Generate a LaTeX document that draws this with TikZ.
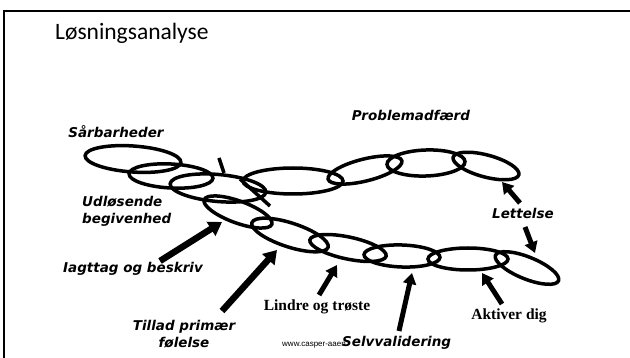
\documentclass[tikz,border=0pt]{standalone}
\usepackage{fontspec}
\setmainfont{Liberation Serif}
\newfontfamily\titelfont{Carlito}
\newfontfamily\haandfont{DejaVu Sans}
\newfontfamily\lillefont{Liberation Sans}
\usetikzlibrary{shapes.geometric, arrows.meta}
\tikzset{
    ring/.style   = {draw, ellipse, line width=3.5pt, inner sep=0pt, outer sep=0pt},
    pil/.style    = {line width=6.5pt, -{Triangle[length=13pt, width=16pt]}},
    lillepil/.style = {line width=5pt, -{Triangle[length=11pt, width=13pt]}},
    haand/.style  = {font=\haandfont\bfseries\itshape\fontsize{13.5}{17}\selectfont,
                     inner sep=0pt, align=center},
    tekst/.style  = {font=\bfseries\fontsize{15.5}{17}\selectfont, inner sep=0pt},
    brud/.style   = {line width=3.5pt}
}

\begin{document}
\begin{tikzpicture}[x=1pt, y=-1pt]
    \useasboundingbox (0,0) rectangle (630,358);
    % --- ramme og titel ---
    \draw[line width=2.5pt] (4,358) -- (4,11) -- (630,11);
    \node[font=\titelfont\fontsize{23.5}{26}\selectfont, inner sep=0pt, anchor=base west] (titel) at (55,40) {Løsningsanalyse};

    % --- øverste kæde ---
    \node[ring, minimum width=96pt, minimum height=26pt, rotate=-4]  (r1) at (133,159) {};
    \node[ring, minimum width=84pt, minimum height=24pt, rotate=-3]  (r2) at (171,176) {};
    \node[ring, minimum width=96pt, minimum height=27pt, rotate=-5]  (r3) at (218,188) {};
    \node[ring, minimum width=100pt, minimum height=26pt]            (r4) at (293,181) {};
    \node[ring, minimum width=76pt, minimum height=22pt, rotate=14]  (r5) at (365,170) {};
    \node[ring, minimum width=78pt, minimum height=26pt, rotate=2]   (r6) at (426,163) {};
    \node[ring, minimum width=68pt, minimum height=22pt, rotate=-15] (r7) at (486,166) {};

    \draw[brud] (219,158) -- (224,173);
    \draw[brud] (240,179) -- (270,206);

    % --- nederste kæde ---
    \node[ring, minimum width=72pt, minimum height=22pt, rotate=-20] (r8)  at (238,212) {};
    \node[ring, minimum width=80pt, minimum height=24pt, rotate=-18] (r9)  at (290,235) {};
    \node[ring, minimum width=78pt, minimum height=22pt, rotate=-12] (r10) at (348,248) {};
    \node[ring, minimum width=76pt, minimum height=22pt, rotate=-2]  (r11) at (402,256) {};
    \node[ring, minimum width=80pt, minimum height=22pt]             (r12) at (468,259) {};
    \node[ring, minimum width=68pt, minimum height=22pt, rotate=-22] (r13) at (527,268) {};

    % --- tekster ---
    \node[haand, anchor=base] (saar)  at (116,138) {Sårbarheder};
    \node[haand, anchor=base] (probl) at (411,121) {Problemadfærd};
    \node[haand, anchor=base west, align=left] (udl) at (82,224) {Udløsende\\begivenhed};
    \node[haand, anchor=base] (lett)  at (523,219) {Lettelse};
    \node[haand, anchor=base] (iagt)  at (133,273) {Iagttag og beskriv};
    \node[haand, anchor=base] (till)  at (184,348) {Tillad primær\\følelse};
    \node[tekst, anchor=base] (lindr) at (317,311) {Lindre og trøste};
    \node[font=\lillefont\fontsize{8}{9}\selectfont, inner sep=0pt, anchor=base west] (www) at (282,347) {www.casper-aaen};
    \node[haand, anchor=base west] (selv)  at (342,347) {Selvvalidering};
    \node[tekst, anchor=base] (akt)   at (509,320) {Aktiver dig};

    % --- pile ---
    \coordinate (p1a) at (160,261); \coordinate (p1b) at (222,222);
    \coordinate (p2a) at (222,311); \coordinate (p2b) at (277,250);
    \coordinate (p3a) at (319,295); \coordinate (p3b) at (337,265);
    \coordinate (p4a) at (399,331); \coordinate (p4b) at (412,273);
    \coordinate (p5a) at (502,304); \coordinate (p5b) at (482,273);
    \coordinate (p6a) at (520,203); \coordinate (p6b) at (502,182);
    \coordinate (p7a) at (525,227); \coordinate (p7b) at (535,253);

    \draw[pil] (p1a) -- (p1b);
    \draw[pil] (p2a) -- (p2b);
    \draw[lillepil] (p3a) -- (p3b);
    \draw[lillepil] (p4a) -- (p4b);
    \draw[lillepil] (p5a) -- (p5b);
    \draw[lillepil] (p6a) -- (p6b);
    \draw[lillepil] (p7a) -- (p7b);
\end{tikzpicture}
\end{document}
